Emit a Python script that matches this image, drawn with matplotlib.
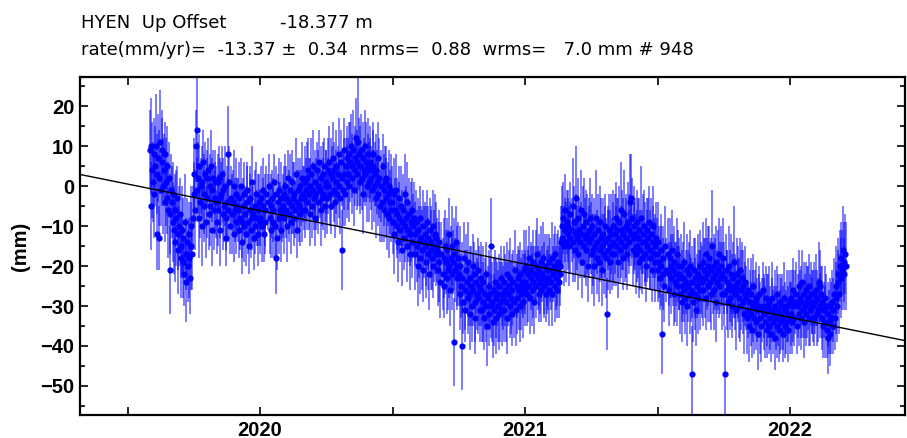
import matplotlib
matplotlib.use("Agg")
import matplotlib.pyplot as plt
import numpy as np
import pandas as pd
from matplotlib.ticker import MultipleLocator, FuncFormatter

plt.rcParams["font.family"] = ["Liberation Sans", "DejaVu Sans"]

# header values
SITE = "HYEN"
COMPONENT = "Up"
OFFSET_M = -18.377
RATE = -13.37
RATE_SIG = 0.34
NRMS = 0.88
WRMS = 7.0
N_OBS = 948

# trend line value (mm) at a reference epoch
REF_EPOCH = 2021.0
REF_VALUE = -19.5

# daily solutions starting 2019-08-02, one line per month; None = missing day
START_DATE = "2019-08-02"
UP_MM = [
    9, -5, 10, 4, 1, 8, -2, 5, 10, -12, 3, 7, -13, 2, 11, -1, 6, 9, 0, 4, -4, 8, 1, -3, 5, -6, 2, -21, -7, -1,  # Aug 19
    -4, -9, -2, -11, -6, -14, -8, -3, -12, -16, -10, -7, -15, -18, -11, -19, -13, -22, -9, -17, -24, -14, -20, -12, -18, -23, -15, -10, -17, -8,  # Sep
    -2, 3, -6, 10, 14, -1, 2, -8, 5, -4, 0, -10, 1, 6, -5, -2, 3, -9, 2, -3, 4, -7, 0, -5, 5, -1, -11, 2, -6, 1, -3,  # Oct
    -4, -9, 1, -6, 2, -3, -11, -2, 3, -7, -1, -5, 0, -8, -13, -4, 8, -6, 1, -10, -3, None, -7, -4, -12, 0, -6, -2, -9, -5,  # Nov
    -6, -11, -3, -8, 0, -9, -14, -5, -2, -10, -7, -12, -4, -1, -9, -15, -6, -3, -11, -8, 1, -7, -13, -5, -10, -2, -8, -6, -12, -4, -9,  # Dec
    -8, -3, -10, -5, -1, -12, -6, -9, -2, None, None, -4, 0, -8, -11, -5, -3, -9, -6, 1, -10, -18, -2, -13, -4, -8, -1, -6, -11, -3, -7,  # Jan 20
    -5, -2, -8, 0, -6, -3, -10, 2, -4, -7, -1, -9, -5, 1, -3, -8, -2, -6, 3, -4, -11, -1, -5, 0, -7, -3, 2, -6, -2,  # Feb
    -3, 1, -6, -1, 2, -4, 4, -2, -7, 0, 3, -5, -1, 5, -3, -8, 1, -2, 4, -4, 0, 6, -1, -6, 2, -3, 3, -2, 5, -5, 0,  # Mar
    1, -3, 4, 0, 6, -2, 3, -5, 2, 7, -1, 4, -4, 1, 5, -2, 3, 8, 0, -3, 6, -16, 2, -1, 9, 3, -2, 5, 1, 7,  # Apr
    3, 8, 0, 6, 10, 2, 5, 9, -1, 7, 4, 12, 6, 3, 11, 8, 1, 5, 9, 2, 7, -2, 4, 10, 3, 6, 0, 5, 8, 1, 4,  # May
    6, 2, -1, 5, 8, 0, 3, -3, 4, 1, 7, -2, 2, -5, None, 0, -4, 5, -1, -6, 1, -3, 2, -7, -2, 0, -8, -4, -1, -6,  # Jun
    -4, -9, -2, -12, -6, -1, -10, -7, -14, -3, -8, -11, -5, -16, -9, -6, -13, -2, -10, -8, -15, -4, -11, -7, -12, -17, -9, -6, -14, -10, -8,  # Jul
    -12, -17, -9, -15, -20, -11, -14, -8, -18, -13, -16, -10, -21, -14, -12, -19, -15, -9, -17, -13, -22, -11, -16, -14, -18, -10, -20, -15, -12, -17, -13,  # Aug
    -16, -21, -14, -19, -24, -17, None, None, -22, -18, -25, -15, -19, -23, -16, -21, -12, -20, -26, -18, -22, -15, -19, -39, -17, -21, -14, -23, -20, -18,  # Sep
    -22, -27, -20, -25, -40, -23, -29, -18, -26, -31, -21, -24, -28, -19, -27, -32, -23, -25, -30, -20, -26, -22, -29, -33, -24, -27, -21, -28, -25, -31, -23,  # Oct
    -26, -31, -24, -29, -33, -27, -22, -30, -35, -28, -25, -32, -27, -30, -15, -29, -34, -26, -31, -24, -28, -33, -27, -30, -25, -32, -29, -23, -31, -27,  # Nov
    -28, -24, -31, -26, -29, -22, -33, -27, -25, -30, -23, -28, -32, -26, -24, -29, -21, None, -31, -25, -28, -23, -26, -30, -22, -27, -24, -29, -25, -21, -26,  # Dec
    -24, -20, -27, -22, -25, -18, -28, -23, -21, -26, -19, -24, -29, -22, -20, -25, -17, -23, -27, -21, -24, -19, -26, -22, -18, -25, -23, -20, -27, -21, -24,  # Jan 21
    -23, -19, -26, -21, -24, -18, -27, -22, -20, -25, -17, -23, -21, -26, -19, -24, -22, -20, -14, -10, -13, -8, -15, -11, -6, -14, -9, -12,  # Feb
    -10, -15, -7, -13, None, -11, -5, -14, -9, -16, -12, -3, -13, -8, -17, -11, -14, -6, -12, -19, -10, -15, -7, -13, -16, -9, -12, -20, -11, -14, -8,  # Mar
    -13, -17, -10, -16, -20, -12, -15, -8, -18, -14, -11, -19, -16, -9, -13, -21, -15, -12, -17, -10, -14, -18, -32, -13, -16, -11, -19, -15, -12, -17,  # Apr
    -14, -10, -17, -12, -8, -15, -11, -19, -13, -9, -16, -6, -14, -11, -18, -12, -7, -15, -10, -13, -17, -9, -14, -11, -4, -3, -12, -8, -16, -10, -13,  # May
    -12, -17, -9, -15, -13, -19, -11, -16, -8, -14, -18, -12, -10, -17, -14, -20, -11, -15, -13, -9, -18, -16, -12, -21, -14, -10, -17, -15, -19, -13,  # Jun
    -17, -21, -14, -19, -23, -16, -20, -37, -22, -18, -25, -15, -21, None, None, -17, -22, -26, -18, -20, -23, -16, -21, -27, -19, -24, -22, -17, -25, -20, -23,  # Jul
    -22, -27, -20, -25, -29, -23, -26, -19, -28, -24, -21, -30, -25, -22, -27, -20, -26, -47, -24, -29, -21, -27, -23, -31, -25, -22, -28, -24, -20, -26, -23,  # Aug
    -24, -19, -26, -21, -23, -17, -28, -22, -20, -25, -18, -24, -27, -21, -15, -23, -26, -20, -22, -29, -19, -24, -21, -17, -25, -23, -20, -27, -22, -18,  # Sep
    -23, -27, -47, -21, -26, -24, -29, -20, -25, -28, -22, -26, -30, -23, -19, -27, -25, -31, -22, -26, -24, -28, -21, -30, -26, -23, -29, -25, -32, -24, -27,  # Oct
    -28, -33, -26, -31, -35, -29, -27, -32, -36, -30, -25, -33, -29, -34, -28, -31, -37, -30, -27, -33, None, -35, -31, -26, -32, -30, -34, -28, -36, -31,  # Nov
    -30, -35, -29, -33, -37, -31, -28, -34, -32, -38, -30, -33, -27, -35, -31, -36, -29, -34, -32, -30, -37, -33, -28, -35, -31, -34, -30, -36, -32, -29, -33,  # Dec
    -32, -28, -34, -30, -26, -33, -29, None, -27, -35, -30, -25, -32, -28, -33, -29, -24, -31, -27, -34, -30, -26, -32, -29, -28, -33, -25, -31, -27, -30, -29,  # Jan 22
    -30, -27, -33, -29, -26, -32, -28, -31, -24, -25, -30, -27, -33, -29, -35, -31, -28, -34, -30, -36, -32, -38, -34, -30, -37, -33, -29, -35,  # Feb
    -31, -27, -33, -28, -25, -30, -24, -22, -27, -20, -23, -18, -21, -16, -19, -22, -17, -20,  # Mar
]

# one-sigma error bars (mm), same daily layout
SIG_MM = [
    10, 11, 12, 12, 10, 9, 11, 10, 13, 9, 10, 11, 8, 12, 13, 9, 11, 10, 12, 9, 10, 8, 11, 9, 10, 12, 9, 11, 10, 9,
    9, 10, 8, 11, 9, 10, 12, 8, 9, 11, 10, 9, 8, 10, 11, 9, 10, 8, 12, 9, 10, 11, 9, 8, 10, 9, 11, 10, 9, 8,
    8, 9, 10, 9, 13, 8, 9, 10, 8, 9, 7, 10, 9, 8, 9, 10, 8, 9, 7, 10, 8, 9, 8, 10, 9, 8, 9, 7, 10, 8, 9,
    9, 8, 7, 9, 8, 10, 9, 8, 7, 9, 8, 9, 10, 8, 7, 9, 12, 8, 9, 7, 8, 9, 10, 8, 7, 9, 8, 9, 8, 7,
    8, 7, 9, 8, 7, 9, 8, 7, 8, 9, 7, 8, 9, 7, 8, 7, 9, 8, 7, 8, 9, 7, 8, 9, 7, 8, 7, 9, 8, 7, 8,
    7, 8, 9, 7, 8, 7, 9, 8, 7, 8, 9, 7, 8, 9, 7, 8, 7, 9, 8, 7, 8, 9, 7, 8, 7, 9, 8, 7, 8, 9, 7,
    8, 7, 9, 8, 7, 8, 9, 7, 8, 7, 9, 8, 7, 8, 9, 7, 8, 7, 9, 8, 7, 8, 9, 7, 8, 7, 9, 8, 7,
    8, 9, 7, 8, 9, 7, 8, 9, 8, 7, 9, 8, 7, 9, 8, 7, 8, 9, 7, 8, 9, 8, 7, 9, 8, 7, 8, 9, 7, 8, 9,
    8, 9, 8, 7, 9, 8, 9, 7, 8, 9, 8, 7, 9, 8, 9, 8, 7, 9, 8, 9, 8, 10, 7, 9, 8, 9, 8, 7, 9, 8,
    9, 8, 9, 10, 8, 9, 8, 10, 9, 8, 9, 10, 8, 9, 16, 9, 8, 10, 9, 8, 9, 10, 8, 9, 8, 10, 9, 8, 9, 10, 8,
    9, 8, 10, 9, 8, 9, 8, 10, 9, 8, 9, 8, 10, 9, 8, 9, 10, 8, 9, 8, 9, 10, 8, 9, 8, 9, 10, 8, 9, 8,
    9, 8, 9, 10, 8, 9, 8, 9, 10, 8, 9, 8, 10, 9, 8, 9, 8, 10, 9, 8, 9, 10, 8, 9, 8, 9, 10, 8, 9, 8, 9,
    8, 9, 8, 9, 10, 8, 9, 8, 9, 8, 10, 9, 8, 9, 8, 9, 10, 8, 9, 8, 9, 8, 10, 9, 8, 9, 8, 9, 10, 8, 9,
    8, 9, 8, 10, 9, 8, 9, 8, 9, 10, 8, 9, 8, 9, 8, 10, 9, 8, 9, 8, 9, 10, 8, 11, 9, 8, 9, 8, 10, 9,
    8, 9, 10, 8, 11, 9, 8, 9, 10, 8, 9, 8, 9, 10, 8, 9, 8, 10, 9, 8, 9, 8, 10, 9, 8, 9, 8, 9, 10, 8, 9,
    9, 8, 9, 10, 8, 9, 8, 9, 10, 8, 9, 8, 9, 8, 12, 10, 9, 8, 9, 8, 10, 9, 8, 9, 8, 9, 10, 8, 9, 8,
    8, 9, 8, 9, 10, 8, 9, 8, 9, 8, 10, 9, 8, 9, 8, 9, 10, 8, 9, 8, 9, 8, 10, 9, 8, 9, 8, 9, 8, 10, 9,
    8, 9, 8, 7, 9, 8, 9, 8, 7, 9, 8, 9, 8, 7, 9, 8, 9, 8, 7, 9, 8, 9, 8, 7, 9, 8, 9, 8, 7, 9, 8,
    8, 7, 9, 8, 7, 9, 8, 7, 8, 9, 7, 8, 9, 7, 8, 9, 8, 7, 9, 10, 8, 9, 10, 8, 9, 10, 8, 9,
    9, 10, 8, 9, 10, 8, 12, 10, 9, 8, 10, 13, 8, 10, 9, 8, 9, 10, 8, 9, 10, 8, 9, 10, 9, 8, 10, 9, 8, 9, 10,
    9, 10, 8, 9, 10, 9, 8, 12, 9, 8, 9, 10, 8, 9, 10, 9, 8, 9, 10, 8, 9, 10, 9, 8, 10, 9, 8, 9, 10, 9,
    10, 9, 8, 10, 9, 10, 8, 9, 10, 9, 8, 12, 9, 10, 8, 9, 11, 9, 8, 10, 9, 10, 8, 9, 12, 11, 8, 10, 9, 10, 9,
    9, 10, 8, 9, 10, 9, 8, 10, 13, 8, 9, 10, 9, 8, 10, 9, 8, 9, 10, 9, 8, 10, 9, 8, 9, 10, 9, 8, 10, 9,
    9, 8, 10, 9, 8, 9, 10, 10, 9, 8, 9, 10, 8, 9, 10, 9, 8, 9, 10, 8, 9, 10, 9, 8, 9, 10, 8, 9, 10, 9, 8,
    9, 10, 8, 9, 10, 9, 8, 10, 9, 8, 9, 10, 9, 8, 10, 9, 8, 12, 9, 10, 8, 9, 10, 9, 8, 10, 9, 8, 9, 10, 9,
    9, 10, 9, 8, 10, 9, 8, 9, 10, 9, 8, 10, 9, 8, 14, 9, 10, 8, 9, 10, 9, 8, 10, 9, 8, 9, 10, 9, 8, 10,
    9, 8, 12, 9, 10, 8, 9, 10, 9, 8, 10, 9, 8, 9, 14, 9, 8, 10, 9, 8, 9, 10, 8, 9, 10, 9, 8, 9, 10, 9, 8,
    8, 9, 8, 7, 9, 8, 9, 8, 7, 9, 8, 9, 8, 7, 9, 8, 9, 8, 7, 9, 8, 9, 8, 7, 9, 8, 9, 8, 7, 9,
    8, 7, 9, 8, 7, 8, 9, 8, 7, 8, 9, 8, 7, 8, 9, 8, 7, 8, 9, 8, 7, 8, 9, 8, 7, 8, 9, 8, 7, 8, 9,
    8, 7, 8, 9, 8, 7, 8, 9, 8, 7, 8, 9, 8, 7, 8, 9, 8, 7, 8, 9, 8, 7, 8, 9, 8, 7, 8, 9, 8, 7, 8,
    9, 8, 7, 8, 9, 8, 7, 8, 10, 9, 8, 7, 8, 9, 8, 7, 8, 9, 8, 7, 8, 9, 8, 7, 8, 9, 8, 7,
    8, 9, 8, 9, 10, 9, 8, 9, 10, 9, 10, 9, 10, 11, 10, 9, 10, 11,
]

XLIM = (2019.32, 2022.434)
YLIM = (-57.3, 27.4)


def decimal_year(dates):
    days = np.where(dates.is_leap_year, 366.0, 365.0)
    return dates.year + (dates.dayofyear - 0.5) / days


n = min(len(UP_MM), len(SIG_MM))
dates = pd.date_range(START_DATE, periods=n, freq="D")
t = np.asarray(decimal_year(dates))
up = np.array([np.nan if v is None else v for v in UP_MM[:n]], dtype=float)
sig = np.array(SIG_MM[:n], dtype=float)
ok = ~np.isnan(up)
t, up, sig = t[ok], up[ok], sig[ok]

fig = plt.figure(figsize=(9.07, 4.38), dpi=100)
ax = fig.add_axes([0.088, 0.0525, 0.910, 0.772])

ax.errorbar(t, up, yerr=sig, fmt="o", color="#0000ff", ms=4.5, mew=0,
            ecolor=(0.0, 0.0, 1.0, 0.65), elinewidth=1.1, capsize=1.5, capthick=1.0, zorder=2)

tl = np.array(XLIM)
ax.plot(tl, REF_VALUE + RATE * (tl - REF_EPOCH), color="black", lw=1.0, zorder=3)

ax.set_xlim(*XLIM)
ax.set_ylim(*YLIM)

ax.xaxis.set_major_locator(MultipleLocator(0.5))
ax.xaxis.set_major_formatter(FuncFormatter(lambda v, p: f"{v:.0f}" if abs(v - round(v)) < 1e-6 else ""))
ax.yaxis.set_major_locator(MultipleLocator(10))
ax.yaxis.set_minor_locator(MultipleLocator(5))

ax.tick_params(which="both", direction="in", top=True, right=True, width=1.2)
ax.tick_params(which="major", length=6, pad=4, labelsize=14.5)
ax.tick_params(which="minor", length=3.5)
for lab in ax.get_xticklabels() + ax.get_yticklabels():
    lab.set_fontweight("bold")
for s in ax.spines.values():
    s.set_linewidth(1.6)

ax.set_ylabel("(mm)", fontsize=14.5, fontweight="bold", labelpad=7)

head = dict(fontsize=13, va="baseline", family="DejaVu Sans")
fig.text(0.089, 0.935, f"{SITE}  {COMPONENT} Offset", **head)
fig.text(0.309, 0.935, f"{OFFSET_M:.3f} m", **head)
fig.text(0.089, 0.874,
         f"rate(mm/yr)=  {RATE:.2f} \u00b1  {RATE_SIG:.2f}  nrms=  {NRMS:.2f}  wrms=   {WRMS:.1f} mm # {N_OBS}",
         **head)

fig.savefig("out.png", dpi=100)
